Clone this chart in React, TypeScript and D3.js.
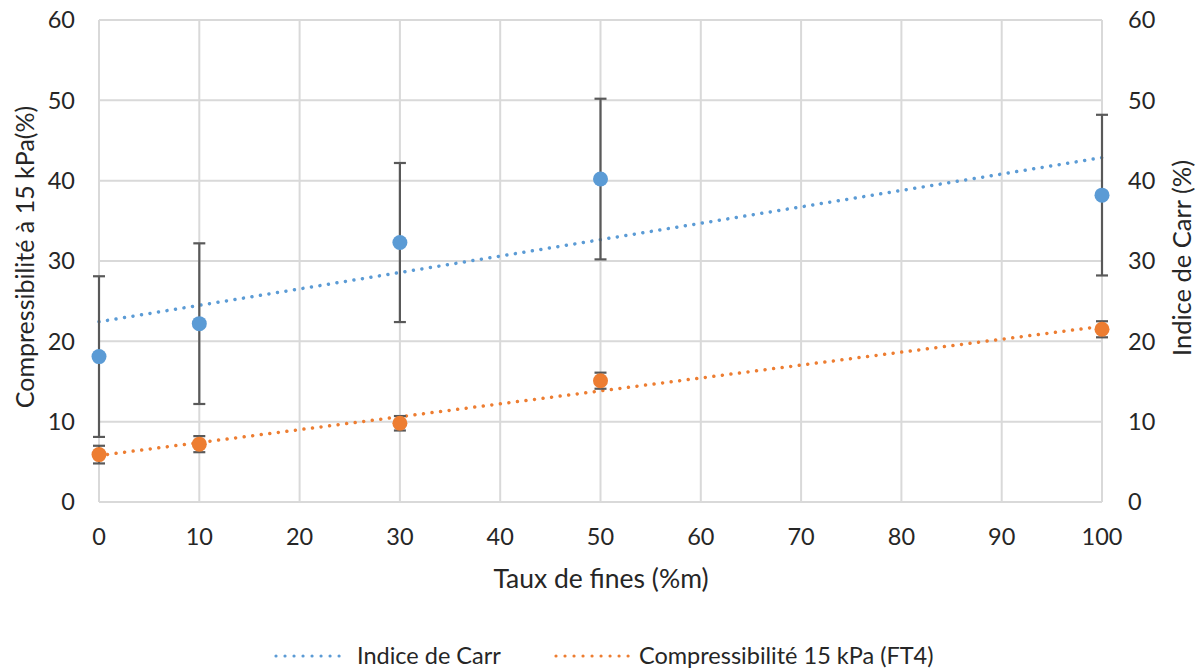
import React from "react";
import * as d3 from "d3";

const xValues = [0, 10, 30, 50, 100];
const carrValues = [18.1, 22.2, 32.3, 40.2, 38.2];
const carrErrors = [10, 10, 9.9, 10, 10];
const compValues = [5.9, 7.2, 9.8, 15.1, 21.5];
const compErrors = [1.1, 1.0, 0.9, 1.0, 1.0];
const xTicks = [0, 10, 20, 30, 40, 50, 60, 70, 80, 90, 100];
const yTicks = [0, 10, 20, 30, 40, 50, 60];
const legendLabels = ["Indice de Carr", "Compressibilité 15 kPa (FT4)"];

const BLUE = "#5B9BD5";
const ORANGE = "#ED7D31";
const FONT = "Lato, 'Open Sans', sans-serif";
const TXT = "#262626";

function regression(xs: number[], ys: number[]) {
  const mx = d3.mean(xs)!;
  const my = d3.mean(ys)!;
  let sxy = 0, sxx = 0;
  xs.forEach((x, i) => { sxy += (x - mx) * (ys[i] - my); sxx += (x - mx) ** 2; });
  const slope = sxy / sxx;
  return { slope, intercept: my - slope * mx };
}

export default function App() {
  const W = 1202, H = 671;
  const left = 99, right = 1102, top = 20, bottom = 502;
  const x = d3.scaleLinear().domain([0, 100]).range([left, right]);
  const y = d3.scaleLinear().domain([0, 60]).range([bottom, top]);

  const series = [
    { vals: carrValues, errs: carrErrors, color: BLUE },
    { vals: compValues, errs: compErrors, color: ORANGE },
  ];

  const line = d3.line<[number, number]>().x(d => x(d[0])).y(d => y(d[1]));

  const legend = [
    { x0: 276, x1: 347, tx: 357, color: BLUE, label: legendLabels[0] },
    { x0: 556, x1: 630, tx: 639, color: ORANGE, label: legendLabels[1] },
  ];

  return (
    <svg width={W} height={H} style={{ position: "absolute", left: 0, top: 0 }} fontFamily={FONT}>
      <rect width={W} height={H} fill="#fff" />
      {xTicks.map(t => (
        <line key={"gx" + t} x1={x(t)} x2={x(t)} y1={top} y2={bottom} stroke="#D9D9D9" strokeWidth={2} />
      ))}
      {yTicks.map(t => (
        <line key={"gy" + t} x1={left} x2={right} y1={y(t)} y2={y(t)} stroke="#D9D9D9" strokeWidth={2} />
      ))}
      {yTicks.map(t => (
        <text key={"yl" + t} x={75} y={y(t)} dy="0.36em" textAnchor="end" fontSize={23.5} fill={TXT}>{t}</text>
      ))}
      {yTicks.map(t => (
        <text key={"yr" + t} x={1128} y={y(t)} dy="0.36em" textAnchor="start" fontSize={23.5} fill={TXT}>{t}</text>
      ))}
      {xTicks.map(t => (
        <text key={"xl" + t} x={x(t)} y={537} dy="0.36em" textAnchor="middle" fontSize={23.5} fill={TXT}>{t}</text>
      ))}
      <text x={601} y={578} dy="0.36em" textAnchor="middle" fontSize={26.5} fill={TXT}>Taux de fines (%m)</text>
      <text transform={`translate(25,257) rotate(-90)`} dy="0.36em" textAnchor="middle" fontSize={25} fill={TXT}>Compressibilité à 15 kPa(%)</text>
      <text transform={`translate(1182,258) rotate(-90)`} dy="0.36em" textAnchor="middle" fontSize={25.5} fill={TXT}>Indice de Carr (%)</text>

      {series.map((s, si) => {
        const r = regression(xValues, s.vals);
        const pts: [number, number][] = [[0, r.intercept], [100, r.intercept + r.slope * 100]];
        return (
          <path key={"tr" + si} d={line(pts)!} fill="none" stroke={s.color} strokeWidth={3.5}
            strokeDasharray="0.01 8.6" strokeLinecap="round" />
        );
      })}

      {series.map((s, si) => (
        <g key={"eb" + si}>
          {xValues.map((xv, i) => {
            const y0 = y(s.vals[i] - s.errs[i]);
            const y1 = y(s.vals[i] + s.errs[i]);
            return (
              <g key={i} stroke="#595959" strokeWidth={2.2}>
                <line x1={x(xv)} x2={x(xv)} y1={y0} y2={y1} />
                <line x1={x(xv) - 6} x2={x(xv) + 6} y1={y0} y2={y0} />
                <line x1={x(xv) - 6} x2={x(xv) + 6} y1={y1} y2={y1} />
              </g>
            );
          })}
        </g>
      ))}

      {series.map((s, si) => (
        <g key={"pt" + si}>
          {xValues.map((xv, i) => (
            <circle key={i} cx={x(xv)} cy={y(s.vals[i])} r={7.5} fill={s.color} />
          ))}
        </g>
      ))}

      {legend.map((l, i) => (
        <g key={"lg" + i}>
          <line x1={l.x0} x2={l.x1} y1={656} y2={656} stroke={l.color} strokeWidth={3.2} strokeDasharray="0.01 9" strokeLinecap="round" />
          <text x={l.tx} y={656} dy="0.36em" fontSize={23.5} fill={TXT}>{l.label}</text>
        </g>
      ))}
    </svg>
  );
}
